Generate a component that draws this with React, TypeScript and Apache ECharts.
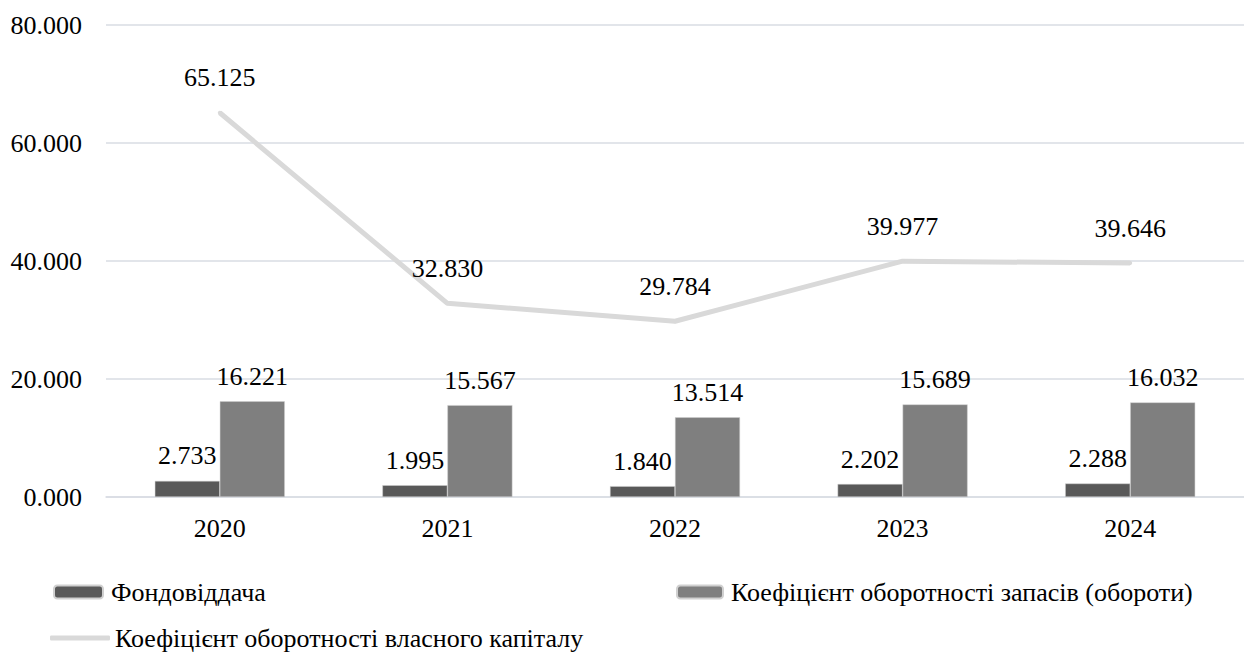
import React, { useEffect, useRef } from "react";
import * as echarts from "echarts";

const years = ["2020", "2021", "2022", "2023", "2024"];
const fondovviddacha = [2.733, 1.995, 1.84, 2.202, 2.288];
const zapasy = [16.221, 15.567, 13.514, 15.689, 16.032];
const kapital = [65.125, 32.83, 29.784, 39.977, 39.646];
const seriesNames = [
  "Фондовіддача",
  "Коефіцієнт оборотності запасів (обороти)",
  "Коефіцієнт оборотності власного капіталу",
];

const FONT = "Liberation Serif";
const fmt = (v: number) => v.toFixed(3);

export default function App() {
  const ref = useRef<HTMLDivElement>(null);
  useEffect(() => {
    document.body.style.margin = "0";
    const chart = echarts.init(ref.current!, null, { renderer: "svg" });
    const ts = () => ({ fontFamily: FONT, fontSize: 26, color: "#000" });
    chart.setOption({
      animation: false,
      grid: { left: 106, right: 0, top: 25, bottom: 160 },
      legend: [
        {
          data: [seriesNames[0]],
          left: 48,
          top: 574,
          itemWidth: 49,
          itemHeight: 13,
          textStyle: { ...ts(), padding: [0, 0, 0, 3] },
        },
        {
          data: [seriesNames[1]],
          left: 671,
          top: 574,
          itemWidth: 46,
          itemHeight: 13,
          textStyle: { ...ts(), padding: [0, 0, 0, 3] },
        },
        {
          data: [{ name: seriesNames[2], icon: "roundRect" }],
          left: 45,
          top: 620,
          itemWidth: 60,
          itemHeight: 5,
          textStyle: { ...ts(), padding: [0, 0, 0, 0] },
        },
      ],
      xAxis: {
        type: "category",
        data: years,
        axisLine: { lineStyle: { color: "#d9dce3", width: 1.5 } },
        axisTick: { show: false },
        axisLabel: { ...ts(), margin: 18 },
      },
      yAxis: {
        type: "value",
        min: 0,
        max: 80,
        interval: 20,
        axisLine: { show: false },
        axisTick: { show: false },
        splitLine: { lineStyle: { color: "#d9dce3", width: 1.5 } },
        axisLabel: { ...ts(), margin: 24, formatter: (v: number) => fmt(v) },
      },
      series: [
        {
          name: seriesNames[0],
          type: "bar",
          data: fondovviddacha,
          barWidth: 65,
          barGap: "0%",
          itemStyle: { color: "#595959", borderColor: "#d0d0d0", borderWidth: 0.5 },
          label: {
            show: true,
            position: "top",
            distance: 12,
            ...ts(),
            formatter: (p: any) => fmt(p.value),
          },
        },
        {
          name: seriesNames[1],
          type: "bar",
          data: zapasy,
          barWidth: 65,
          barGap: "0%",
          itemStyle: { color: "#7f7f7f", borderColor: "#d0d0d0", borderWidth: 0.5 },
          label: {
            show: true,
            position: "top",
            distance: 12,
            ...ts(),
            formatter: (p: any) => fmt(p.value),
          },
        },
        {
          name: seriesNames[2],
          type: "line",
          data: kapital,
          showSymbol: true,
          symbol: "circle",
          symbolSize: 4,
          itemStyle: { color: "#d9d9d9" },
          lineStyle: { color: "#d9d9d9", width: 5 },
          label: {
            show: true,
            position: "top",
            distance: 20,
            ...ts(),
            formatter: (p: any) => fmt(p.value),
          },
        },
      ],
    });
    return () => chart.dispose();
  }, []);
  return (
    <>
      <style>{`#root svg text { font-family: 'Liberation Serif', 'Times New Roman', serif !important; }`}</style>
      <div ref={ref} style={{ width: 1244, height: 657 }} />
    </>
  );
}
